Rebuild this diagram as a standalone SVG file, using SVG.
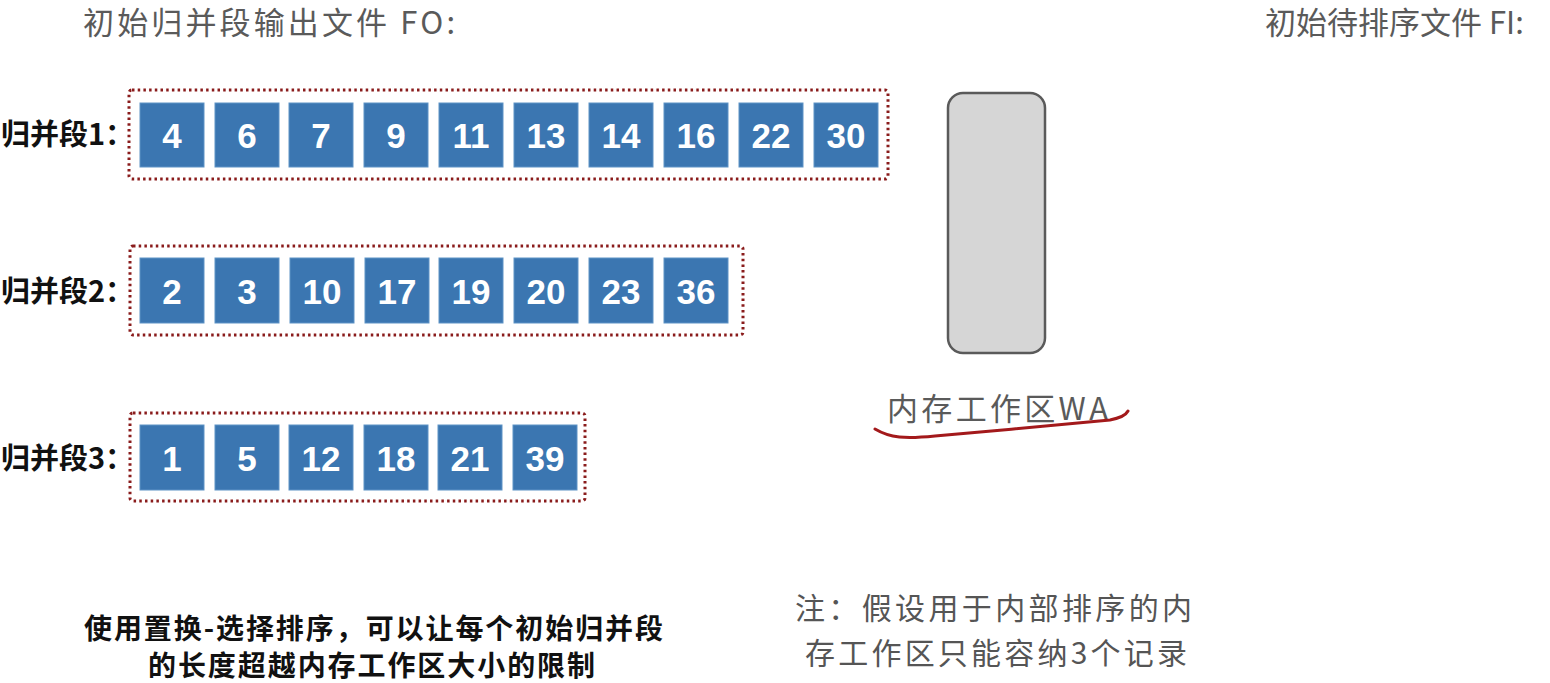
<svg xmlns="http://www.w3.org/2000/svg" width="1550" height="683" viewBox="0 0 1550 683">
<style>
.title{font-family:"Noto Sans CJK SC","Liberation Sans",sans-serif;font-size:31px;fill:#5a5a5a}
.lbl{font-family:"Noto Sans CJK SC","Liberation Sans",sans-serif;font-size:29px;font-weight:bold;fill:#111}
.box{fill:#3b76b1;stroke:#5e93c6;stroke-width:1}
.num{font-family:"Liberation Sans",Arial,sans-serif;font-size:35px;font-weight:bold;fill:#fff;text-anchor:middle}
.seg{fill:none;stroke:#8a1c1c;stroke-width:3;stroke-dasharray:2.5 3.2;stroke-linecap:butt}
.note{font-family:"Noto Sans CJK SC","Liberation Sans",sans-serif;font-size:30px;fill:#555}
.bold{font-family:"Noto Sans CJK SC","Liberation Sans",sans-serif;font-size:28px;font-weight:bold;fill:#111}
</style>
<rect width="1550" height="683" fill="#fff"/>
<g id="title-fo"><text class="title" x="83" y="34" textLength="372" lengthAdjust="spacing">初始归并段输出文件 FO:</text></g>
<g id="title-fi"><text class="title" x="1265" y="34">初始待排序文件 FI:</text></g>

<g id="seg1">
<text class="lbl" x="1" y="145">归并段1：</text>
<rect class="seg" x="129" y="90" width="759" height="89" rx="3"/>
<rect class="box" x="140" y="103" width="64" height="64"/><text class="num" x="172" y="148">4</text>
<rect class="box" x="215" y="103" width="64" height="64"/><text class="num" x="247" y="148">6</text>
<rect class="box" x="289" y="103" width="64" height="64"/><text class="num" x="321" y="148">7</text>
<rect class="box" x="364" y="103" width="64" height="64"/><text class="num" x="396" y="148">9</text>
<rect class="box" x="439" y="103" width="64" height="64"/><text class="num" x="471" y="148">11</text>
<rect class="box" x="514" y="103" width="64" height="64"/><text class="num" x="546" y="148">13</text>
<rect class="box" x="589" y="103" width="64" height="64"/><text class="num" x="621" y="148">14</text>
<rect class="box" x="664" y="103" width="64" height="64"/><text class="num" x="696" y="148">16</text>
<rect class="box" x="739" y="103" width="64" height="64"/><text class="num" x="771" y="148">22</text>
<rect class="box" x="814" y="103" width="64" height="64"/><text class="num" x="846" y="148">30</text>
</g>

<g id="seg2">
<text class="lbl" x="1" y="302">归并段2：</text>
<rect class="seg" x="130" y="246" width="613" height="89" rx="3"/>
<rect class="box" x="140" y="258" width="64" height="65"/><text class="num" x="172" y="304">2</text>
<rect class="box" x="215" y="258" width="64" height="65"/><text class="num" x="247" y="304">3</text>
<rect class="box" x="290" y="258" width="64" height="65"/><text class="num" x="322" y="304">10</text>
<rect class="box" x="365" y="258" width="64" height="65"/><text class="num" x="397" y="304">17</text>
<rect class="box" x="439" y="258" width="64" height="65"/><text class="num" x="471" y="304">19</text>
<rect class="box" x="514" y="258" width="64" height="65"/><text class="num" x="546" y="304">20</text>
<rect class="box" x="589" y="258" width="64" height="65"/><text class="num" x="621" y="304">23</text>
<rect class="box" x="664" y="258" width="64" height="65"/><text class="num" x="696" y="304">36</text>
</g>

<g id="seg3">
<text class="lbl" x="1" y="469">归并段3：</text>
<rect class="seg" x="130" y="413" width="455" height="88" rx="3"/>
<rect class="box" x="140" y="425" width="64" height="65"/><text class="num" x="172" y="471">1</text>
<rect class="box" x="215" y="425" width="64" height="65"/><text class="num" x="247" y="471">5</text>
<rect class="box" x="289" y="425" width="64" height="65"/><text class="num" x="321" y="471">12</text>
<rect class="box" x="364" y="425" width="64" height="65"/><text class="num" x="396" y="471">18</text>
<rect class="box" x="438" y="425" width="64" height="65"/><text class="num" x="470" y="471">21</text>
<rect class="box" x="513" y="425" width="64" height="65"/><text class="num" x="545" y="471">39</text>
</g>

<g id="wa">
<rect x="948" y="93" width="97" height="260" rx="15" fill="#d6d6d6" stroke="#5a5a5a" stroke-width="2.5"/>
<text class="title" x="887" y="420" textLength="221" lengthAdjust="spacing">内存工作区WA</text>
<path d="M875,429 C890,438 905,439 935,436 C990,431 1060,425 1110,420 C1120,418 1126,415 1128,411" fill="none" stroke="#a3191b" stroke-width="3" stroke-linecap="round"/>
</g>

<g id="note-left">
<text class="bold" x="84" y="639" textLength="579" lengthAdjust="spacing">使用置换-选择排序，可以让每个初始归并段</text>
<text class="bold" x="148" y="676" textLength="447" lengthAdjust="spacing">的长度超越内存工作区大小的限制</text>
</g>
<g id="note-right">
<text class="note" x="795" y="619" textLength="397" lengthAdjust="spacing">注：假设用于内部排序的内</text>
<text class="note" x="805" y="664" textLength="382" lengthAdjust="spacing">存工作区只能容纳3个记录</text>
</g>
</svg>
